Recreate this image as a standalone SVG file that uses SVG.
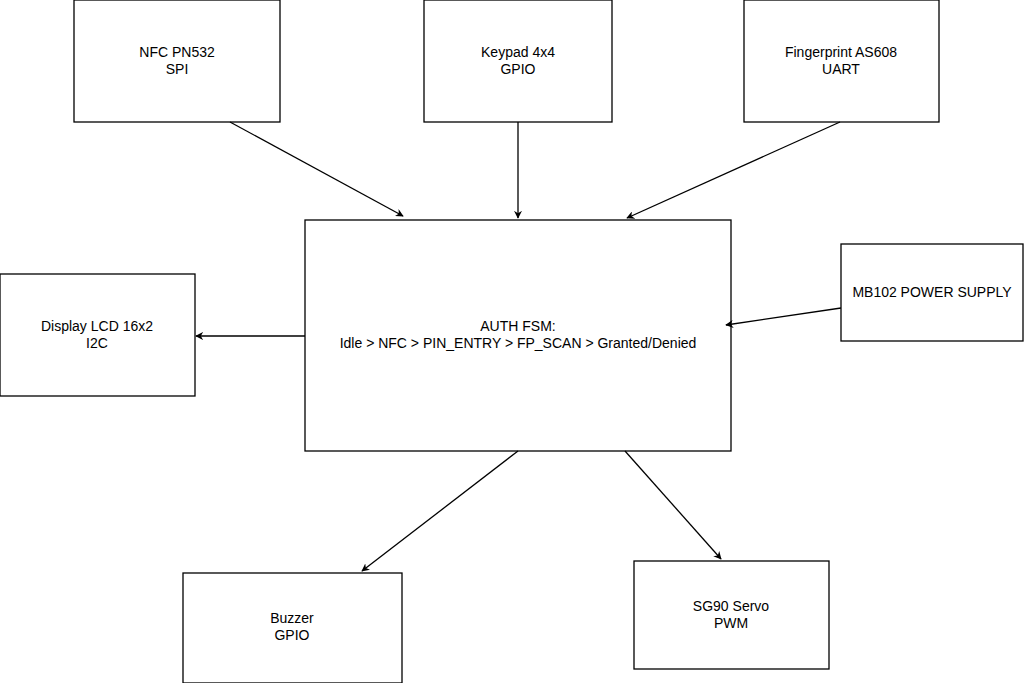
<svg xmlns="http://www.w3.org/2000/svg" width="1024" height="683" viewBox="0 0 1024 683">
<style>
.n rect{fill:#fff;stroke:#000;stroke-width:1.3}
.n text{font-family:"Liberation Sans",Arial,sans-serif;font-size:14px;text-anchor:middle;fill:#000}
.c line{stroke:#000;stroke-width:1.3;marker-end:url(#a)}
</style>
<defs><marker id="a" viewBox="0 0 10 10" refX="9" refY="5" markerWidth="8" markerHeight="8" orient="auto" markerUnits="userSpaceOnUse"><path d="M0,0 L10,5 L0,10 L3,5 Z" fill="#000"/></marker></defs>
<rect width="1024" height="683" fill="#fff"/>
<g id="nfc" class="n"><rect x="74" y="0" width="206" height="122"/><text x="177" y="57">NFC PN532</text><text x="177" y="74">SPI</text></g>
<g id="keypad" class="n"><rect x="424" y="0" width="188" height="122"/><text x="518" y="57">Keypad 4x4</text><text x="518" y="74">GPIO</text></g>
<g id="fp" class="n"><rect x="744" y="0" width="195" height="122"/><text x="841" y="57">Fingerprint AS608</text><text x="841" y="74">UART</text></g>
<g id="auth" class="n"><rect x="305" y="220" width="426" height="231"/><text x="518" y="331">AUTH FSM:</text><text x="518" y="348">Idle &gt; NFC &gt; PIN_ENTRY &gt; FP_SCAN &gt; Granted/Denied</text></g>
<g id="lcd" class="n"><rect x="0" y="274" width="195" height="122"/><text x="97" y="331">Display LCD 16x2</text><text x="97" y="348">I2C</text></g>
<g id="power" class="n"><rect x="841" y="244" width="182" height="97"/><text x="932" y="297">MB102 POWER SUPPLY</text></g>
<g id="buzzer" class="n"><rect x="183" y="573" width="219" height="110"/><text x="292" y="623">Buzzer</text><text x="292" y="640">GPIO</text></g>
<g id="servo" class="n"><rect x="634" y="561" width="195" height="108"/><text x="731" y="611">SG90 Servo</text><text x="731" y="628">PWM</text></g>
<g id="connectors" class="c">
<line x1="230" y1="122" x2="403" y2="216"/>
<line x1="518" y1="122" x2="518" y2="218"/>
<line x1="840" y1="122" x2="627" y2="218"/>
<line x1="305" y1="336" x2="196" y2="336"/>
<line x1="841" y1="308" x2="726" y2="325"/>
<line x1="518" y1="451" x2="362" y2="571"/>
<line x1="625" y1="451" x2="721" y2="559"/>
</g>
</svg>
